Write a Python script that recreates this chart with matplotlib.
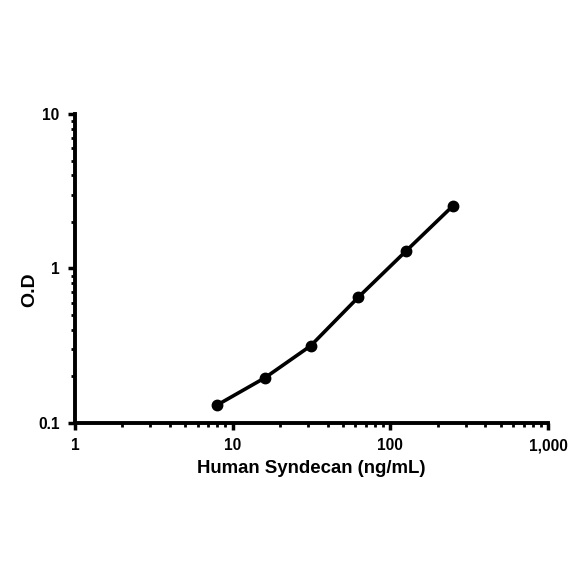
import matplotlib
matplotlib.use("Agg")
import matplotlib.pyplot as plt
from matplotlib.ticker import FixedLocator, FixedFormatter, LogLocator, NullFormatter

plt.rcParams['font.family'] = ['Liberation Sans', 'DejaVu Sans']

conc = [8, 16, 31.25, 62.5, 125, 250]
od = [0.131, 0.196, 0.316, 0.65, 1.29, 2.55]
x_ticks = [1, 10, 100, 1000]
x_ticklabels = ["1", "10", "100", "1,000"]
y_ticks = [0.1, 1, 10]
y_ticklabels = ["0.1", "1", "10"]

fig = plt.figure(figsize=(5.84, 5.84), dpi=100)
ax = fig.add_axes([0.1284, 0.2757, 0.81, 0.5291])
ax.plot(conc, od, color='black', lw=2.6, marker='o', ms=7.5, solid_joinstyle='round')
ax.set_xscale('log')
ax.set_yscale('log')
ax.set_xlim(1, 1000)
ax.set_ylim(0.1, 10)
for s in ['top', 'right']:
    ax.spines[s].set_visible(False)
for s in ['left', 'bottom']:
    ax.spines[s].set_linewidth(2.8)
ax.xaxis.set_major_locator(FixedLocator(x_ticks))
ax.xaxis.set_major_formatter(FixedFormatter(x_ticklabels))
ax.yaxis.set_major_locator(FixedLocator(y_ticks))
ax.yaxis.set_major_formatter(FixedFormatter(y_ticklabels))
ax.xaxis.set_minor_locator(LogLocator(base=10, subs=range(2, 10)))
ax.yaxis.set_minor_locator(LogLocator(base=10, subs=range(2, 10)))
ax.xaxis.set_minor_formatter(NullFormatter())
ax.yaxis.set_minor_formatter(NullFormatter())
ax.tick_params(which='major', direction='out', length=5, width=2.5, labelsize=11.2, pad=6)
ax.tick_params(which='minor', direction='out', length=3, width=2)
for lab in ax.get_xticklabels() + ax.get_yticklabels():
    lab.set_fontweight('bold')
ax.set_xlabel("Human Syndecan (ng/mL)", fontsize=13.4, fontweight='bold', labelpad=5)
ax.set_ylabel("O.D", fontsize=14, fontweight='bold')
ax.yaxis.set_label_coords(-0.078, 0.43)
fig.savefig("out.png", dpi=100, facecolor='white')
